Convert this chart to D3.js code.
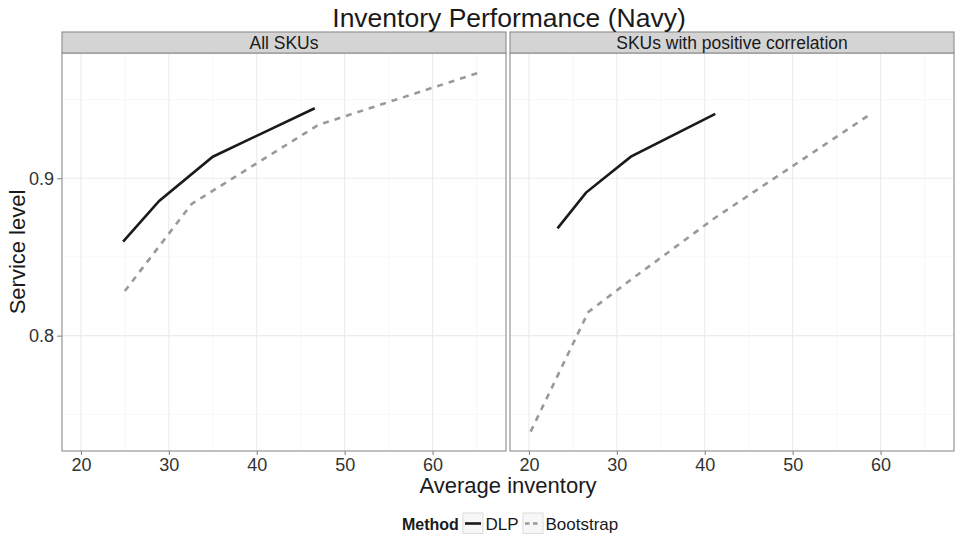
<!DOCTYPE html>
<html>
<head>
<meta charset="utf-8">
<script src="https://cdn.jsdelivr.net/npm/d3@7"></script>
<style>
  body { margin: 0; background: #fff; }
  svg { font-family: "Liberation Sans", Arial, sans-serif; display: block; }
  .grid-major { stroke: #ebebeb; stroke-width: 1.1; }
  .grid-minor { stroke: #f5f5f5; stroke-width: 0.8; }
  .axis text { fill: #333; font-size: 18px; }
  .axis line { stroke: #7f7f7f; }
</style>
</head>
<body>
<div id="chart"></div>
<script>
// facet names and series
const facets = ["All SKUs", "SKUs with positive correlation"];
const methods = ["DLP", "Bootstrap"];

const dlpAll = [[24.8, 0.8597], [28.9, 0.8856], [35.0, 0.9137], [46.6, 0.9445]];
const bootAll = [[25.0, 0.8284], [32.6, 0.8837], [47.0, 0.9339], [65.6, 0.9677]];
const dlpPos = [[23.25, 0.8682], [26.5, 0.8909], [31.6, 0.9137], [41.2, 0.9409]];
const bootPos = [[20.2, 0.7390], [26.75, 0.8150], [31.4, 0.8347], [41.1, 0.8746], [58.7, 0.9402]];

const xTicks = [20, 30, 40, 50, 60];
const xMinor = [25, 35, 45, 55, 65];
const yTicks = [0.8, 0.9];
const yMinor = [0.75, 0.85, 0.95];

const series = [
    { facet: 0, method: "DLP", values: dlpAll },
    { facet: 0, method: "Bootstrap", values: bootAll },
    { facet: 1, method: "DLP", values: dlpPos },
    { facet: 1, method: "Bootstrap", values: bootPos }
];

const width = 955, height = 536;
const panelW = 444, panelTop = 53, panelBottom = 451, stripH = 21;
const panelX = [62, 510];

const lineStyle = {
    DLP: { stroke: "#1a1a1a", dash: null },
    Bootstrap: { stroke: "#999999", dash: "6,6" }
};

const svg = d3.select("#chart").append("svg")
    .attr("width", width)
    .attr("height", height);

const y = d3.scaleLinear()
    .domain([0.7267, 0.9796])
    .range([panelBottom, panelTop]);

facets.forEach((name, i) => {
    const x = d3.scaleLinear()
        .domain([17.85, 68.35])
        .range([panelX[i], panelX[i] + panelW]);

    const g = svg.append("g").attr("class", "panel");

    // grid
    g.selectAll(".xminor").data(xMinor).enter().append("line")
        .attr("class", "grid-minor")
        .attr("x1", d => x(d)).attr("x2", d => x(d))
        .attr("y1", panelTop).attr("y2", panelBottom);
    g.selectAll(".yminor").data(yMinor).enter().append("line")
        .attr("class", "grid-minor")
        .attr("x1", panelX[i]).attr("x2", panelX[i] + panelW)
        .attr("y1", d => y(d)).attr("y2", d => y(d));
    g.selectAll(".xmajor").data(xTicks).enter().append("line")
        .attr("class", "grid-major")
        .attr("x1", d => x(d)).attr("x2", d => x(d))
        .attr("y1", panelTop).attr("y2", panelBottom);
    g.selectAll(".ymajor").data(yTicks).enter().append("line")
        .attr("class", "grid-major")
        .attr("x1", panelX[i]).attr("x2", panelX[i] + panelW)
        .attr("y1", d => y(d)).attr("y2", d => y(d));

    // lines
    const line = d3.line().x(d => x(d[0])).y(d => y(d[1]));
    series.filter(s => s.facet === i).forEach(s => {
        g.append("path")
            .datum(s.values)
            .attr("d", line)
            .attr("fill", "none")
            .attr("stroke", lineStyle[s.method].stroke)
            .attr("stroke-width", 2.6)
            .attr("stroke-dasharray", lineStyle[s.method].dash);
    });

    // border
    g.append("rect")
        .attr("x", panelX[i]).attr("y", panelTop)
        .attr("width", panelW).attr("height", panelBottom - panelTop)
        .attr("fill", "none")
        .attr("stroke", "#8c8c8c")
        .attr("stroke-width", 1.1);

    // strip
    g.append("rect")
        .attr("x", panelX[i]).attr("y", panelTop - stripH)
        .attr("width", panelW).attr("height", stripH)
        .attr("fill", "#d4d4d4")
        .attr("stroke", "#8c8c8c")
        .attr("stroke-width", 1.1);
    g.append("text")
        .attr("x", panelX[i] + panelW / 2)
        .attr("y", panelTop - 4.5)
        .attr("text-anchor", "middle")
        .style("font-size", "17.5px")
        .style("fill", "#1a1a1a")
        .text(name);

    const xAxis = d3.axisBottom(x)
        .tickValues(xTicks)
        .tickSize(4)
        .tickPadding(3)
        .tickFormat(d3.format("d"));
    g.append("g")
        .attr("class", "axis")
        .attr("transform", "translate(0," + panelBottom + ")")
        .call(xAxis)
        .call(a => a.select(".domain").remove());

    if (i === 0) {
        const yAxis = d3.axisLeft(y)
            .tickValues(yTicks)
            .tickSize(5)
            .tickPadding(3)
            .tickFormat(d3.format(".1f"));
        g.append("g")
            .attr("class", "axis")
            .attr("transform", "translate(" + panelX[i] + ",0)")
            .call(yAxis)
            .call(a => a.select(".domain").remove());
    }
});

// titles
svg.append("text")
    .attr("x", 509).attr("y", 27)
    .attr("text-anchor", "middle")
    .style("font-size", "26.5px")
    .style("fill", "#1a1a1a")
    .text("Inventory Performance (Navy)");

svg.append("text")
    .attr("x", 508).attr("y", 493)
    .attr("text-anchor", "middle")
    .style("font-size", "22px")
    .style("fill", "#1a1a1a")
    .text("Average inventory");

svg.append("text")
    .attr("transform", "translate(25," + ((panelTop + panelBottom) / 2) + ") rotate(-90)")
    .attr("text-anchor", "middle")
    .style("font-size", "22px")
    .style("fill", "#1a1a1a")
    .text("Service level");

// legend
const legend = svg.append("g").attr("transform", "translate(402,530)");
legend.append("text")
    .style("font-size", "16px")
    .style("font-weight", "bold")
    .style("fill", "#1a1a1a")
    .text("Method");

const keyX = [61, 121];
methods.forEach((m, i) => {
    const k = legend.append("g").attr("transform", "translate(" + keyX[i] + ",0)");
    k.append("rect")
        .attr("x", 0).attr("y", -17)
        .attr("width", 20).attr("height", 20.5)
        .attr("fill", "#f7f7f7")
        .attr("stroke", "#dcdcdc")
        .attr("stroke-width", 1);
    k.append("line")
        .attr("x1", 2).attr("x2", 18)
        .attr("y1", -6.5).attr("y2", -6.5)
        .attr("stroke", lineStyle[m].stroke)
        .attr("stroke-width", 2.6)
        .attr("stroke-dasharray", lineStyle[m].dash ? "4.5,3.5" : null);
    k.append("text")
        .attr("x", 22.5).attr("y", 0)
        .style("font-size", "17px")
        .style("fill", "#1a1a1a")
        .text(m);
});
</script>
</body>
</html>
